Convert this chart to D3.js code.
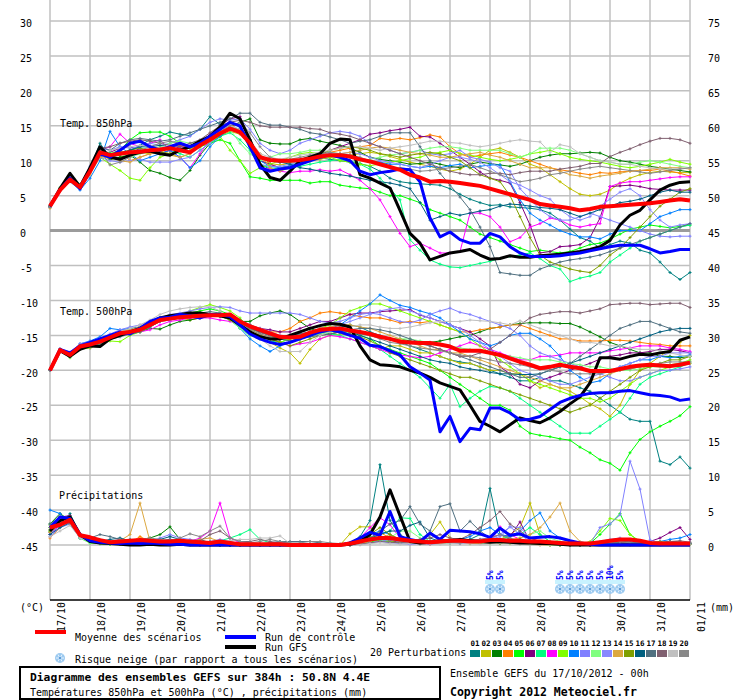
<!DOCTYPE html>
<html><head><meta charset="utf-8">
<script src="https://cdn.jsdelivr.net/npm/d3@7"></script>
<style>
body{margin:0;background:#fff;}
svg text{font-family:"DejaVu Sans Mono",monospace;}
</style></head><body>
<svg id="chart" width="740" height="700"></svg>
<script>
// ---------- DATA ----------
const dayLabels = ["17/10","18/10","19/10","20/10","21/10","22/10","23/10","24/10","25/10","26/10","27/10","28/10","28/10","29/10","30/10","31/10","01/11"];
const tempTicks = [30,25,20,15,10,5,0,-5,-10,-15,-20,-25,-30,-35,-40,-45];
const precTicks = [75,70,65,60,55,50,45,40,35,30,25,20,15,10,5,0];
const pertColors = ["#008080","#c0c000","#008000","#ff8000","#00ff00","#800080","#00ff80","#ff00ff","#80ff00","#0080ff","#8080ff","#80ff80","#8888ff","#dca840","#80a000","#006080","#507080","#806070","#c0c0c0","#888888"];
const snowSteps = [44,45,51,52,53,54,55,56,57];
const snowPct = [5,5,5,5,5,5,5,10,5];

const mean850 = [3.5,5.8,7.3,6.2,8.5, 11.2,10.8,11.0,11.2,11.3, 11.5,11.6,11.8,11.5,11.2, 12.2,13.0,13.9,14.6,14.1, 12.5,10.5,10.1,10.0,10.0, 10.1,10.3,10.6,10.8,10.8, 10.6,10.2,9.9,9.5,9.1, 8.7,8.0,7.6,7.0,7.1, 7.0,6.8,6.6,6.4,6.0, 5.6,5.2,4.8,4.4,3.8, 3.6,3.4,3.2,2.9,3.1, 3.4,3.5,3.6,3.7,3.8, 3.9,4.1,4.3,4.5,4.3];
const ctrl850 = [3.5,5.8,7.5,6.0,8.5, 11.0,10.5,11.5,12.5,12.8, 12.0,11.5,12.0,12.5,12.0, 12.5,13.5,14.5,15.5,15.0, 12.0,9.0,8.5,8.8,9.0, 9.5,10.0,10.5,10.8,10.5, 10.0,8.5,8.0,8.3,8.5, 8.8,8.7,7.0,1.8,-0.9, -0.2,-1.3,-1.8,-1.8,-0.4, -0.9,-2.3,-3.2,-3.7,-3.7, -3.7,-3.6,-3.4,-3.2,-2.9, -2.6,-2.3,-2.1,-2.1,-2.1, -2.6,-3.2,-3.0,-2.7,-2.7];
const gfs850 = [3.5,6.0,8.2,6.3,9.0, 12.0,10.5,10.2,10.8,11.2, 11.4,11.0,10.8,11.5,12.0, 12.8,13.5,14.8,16.8,16.0, 13.0,9.5,7.6,7.2,8.5, 10.0,10.5,11.0,12.5,13.1, 13.0,8.0,7.5,6.8,6.1, 2.9,-0.4,-1.8,-4.2,-3.7, -3.2,-3.0,-2.7,-3.5,-4.1, -4.0,-3.6,-3.8,-3.8,-3.6, -3.5,-3.4,-3.2,-3.0,-2.7, -2.3,-1.4,0.8,2.2,2.9, 4.4,5.8,6.5,6.9,7.0];
const pert850 = [
 [3.4,5.8,7.3,6.0,8.8, 12.5,10.5,10.8,11.5,12.2, 13.0,13.5,14.1,13.8,13.6, 14.5,16.3,15.2,14.8,14.0, 12.0,9.5,8.8,8.6,9.0, 9.6,10.2,10.4,10.2,10.0, 9.8,9.6,9.2,8.5,7.5, 7.0,6.8,6.7,6.6,6.5, 6.0,5.2,4.5,4.0,3.6, 3.7,3.4,3.3,3.2,3.0, 2.5,1.5,0.2,-1.0,-1.5, -2.5,-2.0,-1.5,-1.8,-2.8, -3.2,-4.5,-6.0,-7.0,-6.0],
 [3.6,6.1,7.6,6.4,8.4, 10.8,10.2,10.5,11.0,11.2, 11.0,11.4,11.0,10.5,11.0, 12.0,12.8,13.5,14.2,13.8, 12.2,10.0,9.6,9.4,9.6, 9.8,10.0,10.2,10.5,10.6, 10.8,11.0,11.2,11.0,10.6, 10.2,9.8,9.5,9.2,8.8, 8.5,8.8,9.5,10.5,11.5, 11.8,11.2,10.5,9.5,9.0, 8.0,7.0,6.0,5.2,5.0, 5.2,5.8,6.8,7.5,8.0, 8.3,8.5,8.4,8.3,8.3],
 [3.5,5.9,7.4,6.2,8.6, 11.8,10.2,10.5,10.8,9.8, 8.6,8.2,7.6,7.2,8.6, 10.8,12.5,13.5,14.8,15.5, 16.0,13.0,12.5,12.4,12.4, 13.0,13.2,12.8,12.5,12.2, 11.8,11.2,10.5,10.2,10.0, 9.8,9.5,9.6,9.8,9.5, 9.2,9.0,9.5,9.8,9.6, 9.4,9.2,9.5,10.0,10.5, 10.8,11.0,11.0,11.1,11.2, 11.1,10.5,10.0,9.8,9.5, 9.2,9.0,8.8,8.6,8.4],
 [3.3,5.7,7.2,6.1,8.2, 10.5,10.8,11.5,10.0,10.5, 11.0,11.5,12.0,12.2,11.8, 12.5,13.5,14.5,15.5,14.0, 12.5,11.0,9.5,9.0,9.2, 9.6,10.2,10.8,11.2,11.5, 11.8,12.0,12.2,13.2,13.0, 13.2,13.0,13.3,13.7,13.4, 12.0,11.0,10.5,10.8,11.0, 11.2,10.8,10.5,10.0,9.5, 9.0,8.7,8.5,8.2,8.0, 8.3,8.2,8.4,8.5,8.6, 8.6,8.8,8.5,8.2,7.8],
 [3.5,6.0,7.6,6.5,8.8, 11.5,11.0,11.5,13.0,14.0, 14.1,14.1,13.5,12.5,12.0, 12.0,12.5,13.0,12.5,10.0, 7.7,7.5,7.2,7.2,7.2, 7.2,6.8,7.0,7.0,6.5, 6.3,6.1,6.0,5.5,5.0, 5.0,4.5,4.0,3.0,2.5, 2.0,1.5,0.5,-0.5,-1.0, -1.5,-2.0,-2.5,-3.0,-2.8, -3.0,-3.2,-3.0,-2.5,-2.0, -1.8,-1.2,-0.5,0.2,0.5, 0.8,0.6,0.4,0.6,0.8],
 [3.5,5.9,7.5,6.2,8.4, 11.0,11.2,11.8,12.0,11.5, 11.2,11.0,11.5,12.0,11.8, 12.5,13.8,15.0,16.0,16.3, 13.0,10.0,9.5,9.0,9.2, 9.5,10.0,10.8,11.5,12.0, 12.5,13.0,13.8,14.0,14.3, 14.5,14.8,13.5,13.4,12.5, 11.5,10.5,9.5,8.4,7.5, 7.2,6.8,4.0,0.8,-3.2, -3.0,-2.3,-2.2,-2.0,-1.0, 1.8,6.3,6.4,6.5,6.3, 6.0,5.9,5.8,5.8,5.8],
 [3.6,6.0,7.4,6.2,8.6, 11.0,10.5,11.0,11.5,12.0, 12.0,11.8,11.5,11.0,10.5, 11.5,12.5,13.5,14.0,13.0, 11.5,9.5,9.0,8.8,9.0, 9.2,9.5,9.8,10.0,10.2, 10.0,9.5,8.8,7.5,6.0, 4.4,-1.3,-2.8,-4.2,-4.8, -5.2,-5.3,-5.0,-4.7,-4.4, -4.0,-3.7,-3.5,-3.2,-4.0, -5.0,-5.5,-7.3,-6.8,-6.5, -6.0,-4.5,-3.5,-2.5,-1.5, -1.0,-0.5,0.0,0.5,0.8],
 [3.4,5.8,7.3,6.0,8.3, 11.5,12.0,13.8,12.5,12.0, 12.5,13.0,11.5,10.5,9.0, 11.0,13.0,14.0,15.5,15.0, 12.0,9.0,8.8,8.5,8.3, 8.5,8.5,8.7,8.5,8.7, 8.0,7.2,6.0,4.4,2.0, -0.4,-2.3,-1.8,-2.5,-3.2, -3.2,-3.0,2.5,2.5,2.0, 0.5,-1.6,-1.0,0.5,1.0, 1.8,1.5,0.8,0.5,0.8, 1.0,6.3,6.8,7.0,7.0, 7.2,7.4,7.6,7.7,7.7],
 [3.5,6.0,7.5,6.4,8.7, 10.5,9.5,8.6,7.5,7.2, 9.0,10.5,11.0,11.5,11.8, 12.0,12.8,13.5,11.5,10.0, 8.2,9.0,9.5,10.0,10.5, 11.0,11.2,11.0,10.5,10.0, 9.8,9.5,9.3,9.5,9.8, 10.0,10.3,10.5,11.0,11.2, 11.5,11.0,10.8,10.5,10.2, 10.0,10.2,10.5,11.0,11.2, 11.5,11.0,10.5,10.2,10.0, 9.8,9.5,9.2,9.0,9.2, 9.5,9.8,10.2,9.8,9.5],
 [3.3,5.7,7.0,5.8,7.5, 10.0,14.2,12.0,11.0,10.0, 10.5,11.0,11.5,10.5,9.0, 10.0,12.0,13.5,14.5,14.0, 12.5,10.0,9.2,9.0,9.3, 9.8,10.3,10.8,11.0,10.8, 10.5,10.2,10.0,9.8,9.5, 9.5,9.2,9.0,9.2,9.0, 9.3,9.5,9.0,9.2,9.4, 9.4,7.0,4.4,2.5,1.5, 0.8,0.0,-0.5,-0.9,-0.9, -1.2,-0.5,0.0,0.0,0.0, 1.0,2.0,2.5,3.0,3.0],
 [3.5,6.1,7.7,6.6,9.2, 11.8,11.5,12.0,11.8,12.0, 12.5,12.2,12.5,13.0,13.5, 14.5,15.5,16.0,15.8,16.0, 14.5,12.5,11.5,11.0,11.5, 12.5,13.0,13.5,14.0,14.2, 14.0,13.5,12.5,12.0,11.5, 11.0,11.2,11.5,11.0,10.8, 11.0,11.5,10.5,10.2,9.8, 9.0,8.5,6.0,4.5,3.0, 2.0,1.5,1.5,2.0,2.5, 2.0,1.5,1.0,0.5,0.0, -0.5,-0.8,-0.9,-0.8,-0.8],
 [3.6,6.2,7.8,6.6,8.9, 11.0,11.2,11.0,10.5,11.0, 11.5,12.0,12.5,12.8,12.5, 12.8,13.2,14.0,14.5,12.5, 11.0,10.0,10.5,11.0,11.0, 11.2,11.5,11.5,11.2,11.0, 10.5,10.0,10.2,10.5,10.8, 11.0,11.2,11.5,11.8,12.0, 12.0,11.8,11.5,11.5,11.5, 11.5,11.0,10.5,11.0,11.8, 11.8,11.8,11.5,11.0,10.5, 10.0,9.8,9.5,9.5,9.8, 10.0,9.8,9.5,9.2,9.0],
 [3.4,5.9,7.3,6.1,8.4, 10.5,10.0,9.8,10.0,10.2, 9.8,9.8,9.8,10.2,10.5, 11.5,12.5,13.8,15.0,14.5, 12.0,9.5,9.2,9.2,9.5, 10.0,10.2,10.5,10.8,11.0, 11.2,11.0,10.5,10.0,9.8, 9.5,9.2,9.0,9.5,10.0, 10.5,10.5,10.2,9.8,9.0, 8.0,7.0,6.5,5.8,5.0, 4.5,3.0,2.0,1.5,2.0, 3.5,4.5,5.5,6.0,5.0, 3.0,1.5,0.5,0.8,1.0],
 [3.2,5.7,7.2,6.0,8.0, 10.5,10.5,10.0,9.8,10.5, 11.0,11.2,10.8,10.5,11.0, 12.5,13.5,14.5,15.0,14.2, 12.8,11.0,9.0,8.5,9.0, 9.5,10.0,10.5,10.8,11.0, 11.2,11.5,11.8,12.0,11.8, 11.5,11.2,11.0,10.8,10.5, 10.5,10.8,11.0,11.2,10.8, 10.5,10.0,9.5,9.0,9.0, 9.0,8.5,8.0,7.8,7.5, 7.8,8.0,8.2,8.5,8.6, 8.8,9.0,9.0,9.0,8.8],
 [3.5,6.0,7.6,6.3,8.5, 11.5,11.0,11.2,11.5,11.8, 11.5,11.2,11.0,11.5,12.0, 12.5,13.2,14.0,14.8,14.5, 13.0,10.5,10.0,9.8,9.8, 10.0,10.5,11.0,11.5,11.8, 12.0,11.8,11.5,11.0,10.8, 10.5,10.8,11.0,11.2,11.0, 10.5,10.0,9.0,8.0,7.5, 7.0,5.0,2.0,-1.0,-3.5, -4.5,-5.0,-5.5,-5.8,-6.0, -5.0,-3.5,-2.5,-1.0,0.5, 2.0,3.5,4.5,5.5,6.0],
 [3.5,6.0,7.5,6.4,8.8, 11.5,11.0,11.0,11.5,12.0, 12.0,12.2,12.0,11.5,12.0, 12.5,13.5,14.5,15.5,14.8, 13.0,10.5,10.0,9.8,9.5, 9.0,8.8,8.5,8.2,8.0, 7.8,7.5,7.2,7.0,6.8, 6.5,6.0,4.0,1.5,2.0, 2.5,2.2,2.5,2.8,3.0, 3.5,3.8,3.7,3.5,3.3, 3.2,3.0,2.5,2.0,2.5, 3.0,3.5,4.0,4.2,4.5, 5.0,5.5,5.8,5.5,5.5],
 [3.5,6.0,7.6,6.5,9.0, 12.0,11.5,12.5,13.0,13.2, 13.0,12.8,13.0,13.5,14.0, 14.5,15.0,15.5,16.0,16.8, 16.8,15.5,15.1,15.1,14.8, 14.5,14.0,13.8,13.4,13.0, 12.5,12.8,13.0,13.5,14.0, 14.0,14.0,12.0,10.0,8.2, 6.5,4.8,3.0,0.5,-2.3, -6.0,-6.2,-6.4,-6.4,-5.5, -5.0,-4.5,-4.2,-4.0,-3.8, -3.5,-3.0,-2.5,-2.0,-1.5, -1.0,-0.5,0.0,0.5,1.0],
 [3.5,6.0,7.5,6.3,8.6, 11.8,12.0,12.5,12.8,13.0, 12.8,12.5,12.2,12.0,12.5, 13.0,14.0,15.0,15.5,15.8, 15.5,15.0,14.8,14.8,14.8, 14.8,14.6,14.5,14.0,13.8, 13.5,13.0,12.5,12.0,11.5, 11.0,10.5,10.0,9.5,9.0, 8.5,8.2,8.0,8.0,8.2, 8.2,8.0,8.3,8.5,8.5, 8.5,8.8,9.0,9.2,9.6, 9.6,10.6,11.2,11.7,12.3, 12.8,13.2,13.2,13.0,12.5],
 [3.6,6.1,7.6,6.5,8.7, 11.0,11.5,11.8,12.0,12.2, 12.0,11.8,12.2,12.5,12.2, 12.5,13.5,14.5,15.0,14.5, 13.0,11.0,10.5,10.2,10.5, 10.8,11.0,11.2,11.5,11.8, 12.0,12.0,11.8,11.5,11.8, 12.0,12.2,12.5,12.8,12.8, 12.6,12.5,12.2,12.0,12.2, 12.5,12.8,13.0,12.8,12.7, 11.2,12.3,12.0,11.0,10.5, 10.0,9.8,9.5,9.5,9.2, 9.0,8.8,8.8,8.9,9.0],
 [3.4,5.9,7.4,6.2,8.5, 11.5,9.4,9.8,10.5,11.5, 12.0,12.5,12.8,12.5,12.0, 12.8,13.5,14.2,15.0,15.5, 14.0,12.0,10.5,10.0,10.2, 10.5,10.8,11.0,11.2,11.0, 10.8,10.5,10.0,9.5,9.0, 9.0,8.8,8.5,8.6,8.8, 9.0,9.2,9.5,9.0,8.5, 8.0,7.5,7.0,7.2,7.5, 8.0,8.2,8.5,8.8,9.0, 9.2,9.0,8.8,8.6,8.4, 8.2,8.4,8.6,8.8,9.0]
];

const mean500 = [-20.0,-17.1,-17.8,-16.6,-16.3, -15.9,-15.3,-14.7,-14.5,-14.2, -13.5,-12.8,-12.6,-12.4,-12.3, -12.2,-12.1,-12.1,-12.0,-13.0, -13.7,-14.2,-14.7,-15.2,-15.3, -15.2,-14.6,-14.2,-14.1,-14.0, -14.3,-14.5,-14.8,-15.2,-15.5, -15.9,-16.0,-16.1,-16.1,-16.3, -16.6,-17.2,-17.2,-17.2,-17.5, -17.8,-18.3,-18.8,-19.2,-19.7, -19.5,-19.2,-19.5,-19.7,-20.1, -20.1,-20.1,-19.8,-19.5,-19.3, -19.2,-19.3,-19.4,-19.2,-18.9];
const ctrl500 = [-20.0,-17.0,-17.5,-16.5,-16.0, -15.5,-15.0,-14.5,-14.8,-14.0, -13.0,-12.5,-12.4,-12.0,-12.2, -12.5,-12.0,-12.0,-12.3,-13.5, -14.8,-15.5,-16.0,-16.3,-16.0, -15.5,-15.0,-14.5,-14.2,-14.5, -15.0,-15.4,-16.4,-16.6,-17.2, -17.8,-19.5,-20.4,-21.4,-28.8, -26.6,-30.2,-28.3,-28.5,-25.4, -25.4,-26.1,-27.1,-27.0,-26.6, -25.6,-24.6,-24.0,-23.6,-23.3, -23.2,-23.2,-23.0,-22.9,-23.2, -23.5,-23.6,-23.8,-24.3,-24.1];
const gfs500 = [-20.0,-17.2,-18.0,-17.0,-16.5, -16.6,-15.5,-15.0,-14.5,-14.0, -13.2,-12.5,-12.2,-12.0,-11.8, -11.8,-12.0,-12.2,-12.5,-13.5, -14.5,-15.2,-15.5,-15.5,-15.0, -14.5,-14.0,-13.6,-13.3,-13.4, -13.8,-16.5,-18.5,-19.2,-19.3, -19.5,-20.0,-20.4,-21.0,-21.8, -22.3,-22.8,-25.0,-27.3,-28.0, -28.8,-27.8,-26.8,-27.2,-27.5, -26.8,-25.9,-24.8,-23.8,-21.8, -18.2,-18.2,-18.4,-18.0,-17.7, -17.8,-17.5,-17.3,-15.7,-15.2];
const pert500 = [
 [-20.0,-17.3,-18.0,-16.8,-16.5, -15.8,-15.0,-14.5,-14.3,-14.0, -13.5,-13.0,-12.5,-12.6,-12.4, -12.2,-12.0,-11.8,-12.2,-13.0, -14.0,-14.5,-15.0,-15.5,-15.8, -15.5,-15.0,-14.5,-14.0,-13.8, -13.5,-13.8,-14.5,-15.0,-15.5, -16.0,-16.5,-17.0,-17.5,-18.0, -18.5,-18.8,-19.0,-19.5,-20.0, -20.5,-21.0,-21.5,-21.5,-21.0, -21.5,-21.5,-22.0,-22.5,-23.0, -24.0,-25.0,-26.0,-27.0,-27.3, -27.3,-33.0,-33.5,-32.4,-34.0],
 [-20.0,-17.0,-17.6,-16.4,-16.0, -15.5,-15.0,-14.8,-14.5,-14.0, -13.5,-13.0,-12.8,-12.5,-12.8, -12.5,-12.2,-12.0,-12.5,-13.5, -14.5,-15.5,-16.0,-16.8,-17.5, -19.0,-17.0,-15.5,-15.0,-14.8, -15.0,-15.5,-16.5,-17.0,-16.5, -16.5,-17.0,-17.5,-17.5,-18.0, -18.5,-19.0,-19.0,-19.5,-20.0, -20.0,-20.5,-20.5,-21.5,-22.5, -22.0,-22.5,-23.0,-23.8,-24.8, -25.5,-26.6,-25.0,-22.0,-20.0, -19.0,-18.0,-17.0,-16.0,-15.0],
 [-20.0,-17.2,-17.9,-16.8,-16.6, -16.0,-15.5,-15.0,-14.8,-14.5, -14.0,-14.1,-13.5,-13.0,-12.8, -12.5,-12.3,-12.2,-12.5,-13.0, -13.0,-12.2,-11.8,-11.5,-12.0, -13.0,-14.0,-14.5,-14.8,-14.5, -14.5,-14.6,-15.0,-15.2,-15.5, -15.5,-15.8,-16.0,-16.0,-15.8, -15.5,-15.2,-15.0,-14.5,-14.0, -13.8,-13.5,-13.3,-13.2,-13.2, -13.2,-13.3,-13.3,-13.8,-14.5, -15.2,-16.0,-16.5,-17.0,-17.5, -17.5,-18.0,-18.0,-18.2,-18.0],
 [-20.0,-17.0,-17.5,-16.3,-16.0, -15.5,-15.2,-14.5,-14.0,-13.8, -13.2,-12.8,-12.5,-12.5,-12.3, -12.2,-12.0,-12.2,-12.5,-13.0, -13.5,-14.0,-14.5,-14.5,-14.0, -13.0,-12.5,-11.8,-11.6,-11.8, -12.0,-12.3,-12.5,-12.5,-12.8, -13.2,-13.0,-13.2,-13.0,-13.5, -14.0,-14.5,-14.5,-14.2,-14.0, -13.8,-13.5,-13.5,-14.0,-14.5, -15.0,-15.5,-15.5,-15.8,-15.8, -15.8,-15.7,-15.7,-15.8,-16.0, -16.2,-16.3,-16.5,-16.5,-16.5],
 [-20.0,-17.1,-17.8,-16.6,-16.3, -15.8,-15.3,-14.6,-14.3,-14.0, -13.2,-12.5,-12.2,-12.0,-11.8, -11.5,-11.2,-11.5,-12.0,-13.0, -14.0,-14.5,-15.0,-15.5,-15.8, -15.5,-15.0,-14.8,-14.5,-14.3, -14.5,-15.0,-15.5,-16.5,-17.0, -17.5,-18.0,-18.5,-19.0,-20.0, -21.0,-22.0,-23.0,-24.0,-25.0, -25.0,-25.7,-28.0,-29.0,-29.3, -29.5,-29.8,-30.0,-31.0,-31.8, -32.8,-33.3,-34.3,-31.8,-29.9, -28.8,-28.0,-27.3,-26.5,-25.2],
 [-20.0,-17.2,-17.9,-16.7,-16.4, -16.0,-15.3,-14.8,-14.5,-14.2, -13.5,-12.8,-12.5,-12.4,-12.5, -12.3,-12.2,-12.0,-12.2,-13.0, -13.8,-14.0,-14.2,-14.5,-14.5, -14.0,-13.5,-13.0,-13.0,-12.5, -12.0,-11.8,-11.8,-11.6,-11.5, -11.4,-11.3,-12.1,-12.5,-13.0, -13.5,-14.0,-14.5,-15.5,-16.5, -19.5,-20.5,-22.0,-22.5,-21.5, -21.0,-20.5,-20.0,-19.5,-19.0, -18.4,-18.0,-17.8,-17.5,-17.5, -17.3,-17.0,-17.0,-17.2,-17.5],
 [-20.0,-17.0,-17.7,-16.5,-16.2, -15.6,-15.0,-14.6,-14.5,-14.0, -13.5,-12.8,-12.5,-12.2,-12.0, -12.0,-12.0,-12.2,-12.8,-14.0, -15.0,-15.5,-15.8,-16.0,-15.5, -15.0,-14.5,-14.5,-14.8,-15.0, -15.5,-16.0,-16.5,-17.0,-18.0, -19.0,-20.0,-21.0,-22.5,-24.0, -22.0,-25.2,-24.0,-23.0,-22.3, -22.5,-23.0,-24.0,-25.0,-26.0, -27.0,-28.0,-29.0,-29.0,-29.0, -28.0,-27.0,-26.0,-24.0,-22.0, -21.0,-20.5,-20.0,-19.5,-19.0],
 [-20.0,-17.1,-17.8,-16.9,-16.8, -16.2,-15.5,-15.0,-14.8,-14.5, -14.2,-13.5,-13.0,-12.8,-12.5, -12.5,-12.5,-12.8,-13.0,-13.5, -14.5,-15.0,-15.5,-16.0,-16.5, -16.2,-16.0,-15.5,-15.0,-15.2, -15.5,-16.0,-16.5,-17.0,-17.5, -17.8,-18.0,-18.2,-18.0,-17.5, -17.0,-16.5,-16.0,-16.5,-17.0, -17.5,-18.0,-18.5,-18.5,-18.0, -18.0,-17.8,-17.5,-17.5,-17.5, -17.5,-17.2,-17.0,-16.8,-16.5, -16.5,-16.5,-16.8,-17.0,-17.3],
 [-20.0,-17.2,-18.2,-17.0,-16.8, -16.2,-15.8,-15.9,-15.0,-14.5, -13.8,-13.0,-12.5,-12.0,-11.5, -11.0,-10.6,-11.0,-11.5,-12.5, -14.0,-15.0,-15.5,-16.0,-15.5, -15.0,-14.5,-14.0,-13.5,-12.5, -11.5,-11.0,-10.5,-10.5,-11.0, -11.5,-12.0,-12.5,-13.0,-13.5, -14.0,-14.5,-15.5,-16.5,-17.5, -18.5,-19.5,-20.5,-21.5,-22.0, -22.5,-23.0,-23.5,-24.0,-24.0, -24.5,-24.0,-23.0,-22.0,-21.0, -20.5,-20.0,-19.5,-19.0,-18.5],
 [-20.0,-17.0,-17.6,-16.2,-15.8, -15.2,-14.0,-14.2,-14.0,-13.8, -13.2,-12.8,-12.5,-12.3,-12.2, -12.0,-12.0,-12.2,-12.5,-14.0, -15.5,-16.5,-17.3,-16.5,-16.0, -15.5,-15.0,-14.5,-14.0,-13.5, -12.5,-11.5,-10.5,-9.2,-10.0, -10.7,-11.0,-11.5,-11.9,-12.5, -13.5,-14.5,-15.5,-16.0,-16.5, -16.0,-15.0,-14.7,-14.7,-15.5, -16.5,-18.0,-20.0,-21.0,-21.8, -21.5,-20.5,-19.5,-19.0,-18.5, -18.5,-18.0,-18.2,-18.0,-17.8],
 [-20.0,-16.9,-17.4,-16.2,-15.9, -15.4,-14.8,-14.2,-13.8,-13.5, -13.0,-12.5,-12.0,-11.8,-11.5, -11.2,-11.0,-10.9,-11.0,-11.5, -11.8,-11.8,-11.8,-11.8,-11.8, -12.0,-12.5,-13.0,-13.2,-13.0, -12.5,-12.0,-11.8,-12.0,-12.5, -13.0,-13.2,-12.8,-12.0,-11.5, -11.1,-11.7,-12.0,-12.5,-13.0, -13.5,-14.0,-15.0,-16.5,-17.5, -18.0,-18.5,-19.0,-19.5,-20.0, -20.5,-21.0,-21.5,-21.5,-21.0, -20.5,-20.0,-20.0,-19.8,-19.5],
 [-20.0,-17.1,-17.7,-16.6,-16.2, -15.9,-15.2,-14.6,-14.2,-14.0, -13.4,-12.8,-12.4,-12.2,-12.1, -12.0,-12.0,-12.2,-12.8,-14.0, -15.0,-15.5,-16.0,-16.2,-16.0, -15.5,-15.0,-14.8,-14.5,-14.5, -14.5,-14.8,-15.0,-15.2,-15.5, -15.5,-15.5,-15.8,-16.0,-16.2, -16.5,-16.8,-17.0,-17.2,-17.5, -17.8,-18.0,-18.2,-18.5,-18.5, -18.5,-18.8,-19.0,-19.2,-19.5, -19.5,-19.8,-20.0,-20.0,-19.8, -19.5,-19.5,-19.2,-19.0,-18.8],
 [-20.0,-17.3,-18.0,-16.8,-16.5, -16.0,-15.5,-15.0,-14.6,-14.3, -13.8,-13.0,-12.8,-12.5,-12.3, -12.2,-12.2,-12.0,-12.2,-13.0, -13.5,-14.0,-14.5,-15.0,-15.2, -15.0,-14.5,-14.0,-13.8,-13.5, -13.0,-12.5,-12.0,-11.5,-11.2, -11.0,-11.5,-12.0,-12.5,-13.0, -13.5,-14.0,-15.0,-16.0,-17.0, -18.0,-19.0,-20.0,-20.5,-21.0, -21.5,-22.0,-22.0,-21.5,-21.0, -20.5,-20.0,-19.5,-19.0,-18.5, -18.0,-18.0,-17.5,-17.5,-17.5],
 [-20.0,-17.0,-17.6,-16.4,-16.1, -15.6,-15.0,-14.6,-14.2,-13.8, -13.0,-12.6,-12.4,-12.5,-12.3, -12.2,-12.2,-12.3,-12.5,-13.5, -14.2,-14.8,-15.2,-15.5,-15.3, -15.0,-14.5,-14.0,-13.8,-13.5, -13.5,-13.8,-14.0,-14.5,-15.0, -15.5,-16.0,-16.5,-17.0,-17.0, -17.5,-17.5,-18.0,-18.5,-19.0, -19.5,-20.0,-20.5,-21.0,-21.5, -22.0,-22.5,-22.5,-22.0,-21.5, -21.0,-20.5,-20.0,-19.8,-19.5, -19.5,-19.3,-19.2,-19.0,-19.0],
 [-20.0,-17.1,-17.8,-16.5,-16.2, -15.8,-15.2,-14.8,-14.5,-14.2, -13.5,-12.8,-12.5,-12.3,-12.2, -12.1,-12.0,-12.2,-12.8,-13.5, -14.5,-15.0,-15.5,-16.0,-16.5, -16.0,-15.5,-15.0,-14.8,-14.5, -14.8,-15.2,-15.8,-16.5,-17.5, -18.0,-18.5,-19.0,-19.5,-20.0, -20.5,-21.0,-21.0,-21.5,-22.0, -22.5,-23.0,-23.5,-24.0,-24.5, -25.0,-25.5,-26.0,-25.5,-25.0, -24.0,-23.0,-22.0,-21.0,-20.0, -19.5,-19.0,-18.5,-18.5,-18.0],
 [-20.0,-17.2,-17.9,-16.7,-16.4, -16.0,-15.5,-14.8,-14.4,-14.2, -13.6,-12.9,-12.6,-12.4,-12.3, -12.2,-12.1,-12.2,-12.4,-13.2, -14.0,-14.5,-15.0,-15.2,-15.0, -14.8,-14.5,-14.2,-14.0,-14.2, -14.5,-15.0,-15.5,-16.0,-16.5, -17.0,-17.5,-18.0,-18.5,-18.8, -19.0,-19.5,-19.8,-20.0,-20.3, -20.5,-20.5,-20.6,-20.6,-20.5, -20.0,-19.5,-19.0,-18.5,-18.0, -17.5,-17.0,-16.5,-16.0,-15.5, -15.0,-14.5,-14.2,-14.0,-14.0],
 [-20.0,-17.3,-18.1,-17.0,-16.6, -16.2,-15.6,-15.2,-14.8,-14.5, -13.8,-13.0,-12.6,-12.2,-12.0, -11.8,-11.6,-11.8,-12.0,-12.8, -13.5,-14.2,-15.0,-15.5,-15.8, -15.5,-15.2,-15.0,-14.8,-14.5, -14.2,-14.0,-14.0,-14.2,-14.5, -15.0,-15.5,-16.0,-16.5,-17.0, -17.5,-18.0,-18.5,-19.0,-19.5, -20.0,-20.5,-21.0,-21.0,-20.5, -20.0,-19.5,-19.0,-18.0,-17.0, -16.0,-15.0,-14.0,-13.5,-13.0, -13.0,-13.5,-14.0,-14.5,-14.7],
 [-20.0,-17.0,-17.7,-16.5,-16.2, -15.7,-15.2,-14.7,-14.4,-14.1, -13.4,-12.8,-12.5,-12.3,-12.2, -12.0,-12.0,-12.1,-12.4,-13.2, -14.0,-14.6,-15.0,-15.2,-15.0, -14.8,-14.5,-14.3,-14.2,-14.2, -14.5,-14.8,-15.0,-15.2,-15.5, -15.8,-16.0,-16.2,-16.5,-17.0, -17.5,-18.0,-18.0,-17.5,-17.0, -16.0,-15.0,-13.5,-12.5,-12.0, -11.8,-11.6,-11.6,-11.8,-11.5, -11.2,-10.6,-10.5,-10.4,-10.4, -10.6,-10.5,-10.4,-10.4,-11.0],
 [-20.0,-17.1,-17.8,-16.6,-16.3, -15.8,-15.2,-14.5,-14.0,-13.5, -12.8,-12.0,-11.5,-11.2,-11.0, -10.9,-10.9,-11.5,-12.5,-13.5, -14.5,-15.5,-16.5,-17.3,-17.3, -17.3,-16.0,-15.0,-14.5,-14.0, -13.8,-13.5,-13.5,-13.8,-14.0, -14.0,-13.8,-13.5,-13.2,-13.0, -13.0,-13.0,-12.8,-12.9,-13.0, -13.2,-13.5,-12.9,-13.5,-14.0, -14.5,-15.0,-15.5,-16.0,-16.0, -16.2,-16.5,-16.5,-16.8,-17.0, -17.0,-17.2,-17.5,-17.8,-18.0],
 [-20.0,-17.2,-18.0,-16.9,-16.6, -16.0,-15.4,-14.9,-14.4,-14.0, -13.6,-13.0,-12.7,-12.5,-12.4, -12.3,-12.2,-12.3,-12.6,-13.4, -14.2,-14.8,-15.2,-15.5,-15.3, -15.0,-14.8,-14.5,-14.2,-14.0, -14.2,-14.5,-15.0,-15.5,-16.0, -16.2,-16.5,-16.8,-17.0,-17.2, -17.5,-17.8,-18.0,-18.2,-18.5, -18.8,-19.0,-19.2,-19.5,-19.8, -20.0,-20.2,-20.5,-20.5,-20.5, -20.5,-20.2,-20.0,-19.8,-19.5, -19.3,-19.0,-18.8,-18.8,-18.8]
];

const meanPr = [2.5,2.9,3.6,1.4,1.1, 0.7,0.4,0.5,0.6,0.7, 0.6,0.5,0.5,0.6,0.5, 0.4,0.3,0.5,0.3,0.1, 0.1,0.1,0.1,0.1,0.0, 0.0,0.0,0.0,0.0,0.0, 0.2,0.5,0.8,1.0,1.0, 0.8,0.6,0.5,0.4,0.5, 0.6,0.6,0.5,0.5,0.7, 0.7,0.6,0.6,0.5,0.5, 0.4,0.3,0.2,0.2,0.2, 0.4,0.6,0.8,0.8,0.6, 0.3,0.2,0.2,0.2,0.2];
const ctrlPr = [2.5,4.0,3.8,1.5,0.6, 0.4,0.3,0.2,0.3,0.2, 0.3,0.2,0.1,0.1,0, 0,0,0,0,0, 0,0,0,0,0, 0,0,0,0,0, 0.3,1.0,1.8,1.4,4.8, 1.2,0.8,0.5,1.7,0.8, 2.1,2.0,1.9,1.6,1.1, 2.4,1.4,1.6,1.0,1.1, 1.2,1.0,0.6,0.3,0.1, 0,0,0,0,0, 0,0,0,0,0];
const gfsPr = [2.0,3.5,4.0,1.5,0.5, 0.3,0.2,0.1,0,0, 0.1,0,0,0.1,0, 0,0,0,0,0, 0,0,0,0,0, 0,0,0,0,0, 0.1,0.5,1.5,4.0,7.9, 4.2,0.5,0.3,0.4,0.5, 0.6,0.8,0.6,0.5,0.4, 0.5,0.4,0.3,0.3,0.2, 0.2,0.1,0,0,0, 0,0,0,0,0, 0,0,0,0,0];
const pertPr = [
 [1.5,3.0,4.5,1.5,0.5, 0.3,0.2,0.5,0.8,0.3, 0.2,0.5,0.3,0.2,0.6, 0.8,0.3,0.2,0.1,0, 0,0,0,0,0, 0,0,0,0,0, 0.3,1.2,3.5,11.5,3.5, 1.5,0.5,0.3,0.5,0.6, 0.5,0.4,0.8,1.5,8.1, 1.5,0.8,0.6,0.4,0.3, 0.2,0.2,0.1,0,0, 0.3,0.5,0.4,0.3,0.2, 0.1,0.1,0.2,0.1,0.1],
 [2.0,4.0,3.5,1.0,0.5, 0.3,0.2,0.1,0.2,0.5, 0.3,0.2,0.1,0.1,0.2, 0.1,0,0,0,0, 0,0,0,0,0, 0,0,0,0,0, 1.6,2.6,2.6,1.0,0.5, 0.3,0.2,0.5,1.5,3.3, 1.0,0.5,0.4,0.3,0.5, 0.8,1.5,2.5,6.0,1.5, 0.5,0.3,0.2,0.1,0, 0.2,0.1,0,0,0.1, 0.2,0.3,0.2,0.1,0.2],
 [3.0,4.5,3.5,1.2,0.4, 0.2,0.1,0.3,0.5,0.8, 1.0,1.5,2.6,0.8,0.3, 0.2,0.1,0,0,0, 0,0,0,0,0, 0,0,0,0,0, 0,0.3,0.5,0.8,1.0, 0.5,0.3,0.2,0.4,0.5, 0.3,0.6,0.4,0.3,0.5, 0.4,0.3,0.2,0.3,0.2, 0.1,0,0,0,0, 0.1,0.2,0.3,0.5,0.2, 0.1,0.3,0.5,0.4,0.2],
 [1.0,2.5,3.5,1.5,0.8, 0.5,0.3,0.2,0.3,1.2, 0.5,0.3,0.2,0.1,0.1, 0.2,0.1,0,0,0, 0,0,0,0,0, 0,0,0,0,0, 0.2,0.5,1.0,1.8,1.0, 0.5,0.3,0.2,0.1,0.3, 0.5,0.3,0.2,0.4,0.6, 0.4,0.3,0.2,0.1,0, 0,0,0.1,0.2,0.1, 0.2,0.4,0.3,0.2,0.1, 0,0.1,0.1,0.2,0.1],
 [2.5,3.5,4.0,1.0,0.3, 0.2,0.1,0.2,0.3,0.2, 0.1,0.2,0.3,0.2,0.1, 0.1,0,0,0,0, 0,0,0,0,0, 0,0,0,0,0, 0,0.2,0.5,0.6,0.5, 0.3,0.4,0.2,0.3,0.8, 0.5,0.3,0.5,0.3,0.4, 0.6,0.4,0.3,0.2,0.1, 0,0,0,0,0.2, 1.5,3.0,4.5,1.5,0.5, 0.3,0.2,0.1,0.2,0.1],
 [1.8,4.0,4.2,1.5,0.5, 0.3,0.2,0.1,0.2,0.3, 0.2,0.1,0.2,0.1,0.1, 0,0.1,0,0,0, 0,0,0,0,0, 0,0,0,0,0, 0,0.2,0.8,1.2,0.6, 0.4,0.3,0.2,0.3,0.5, 0.4,0.3,0.5,0.8,1.0, 1.5,1.2,3.3,0.5,0.3, 0.2,0.1,0,0,0, 0.1,0.2,0.3,0.4,0.3, 0.5,1.0,1.8,2.5,0.8],
 [2.0,3.2,3.0,1.0,0.4, 0.3,0.2,0.1,0.3,0.5, 0.3,0.2,0.4,0.6,0.5, 0.3,0.4,0.6,1.0,1.5, 2.2,0.8,0.3,0.1,0, 0,0,0,0,0, 0.2,0.5,0.8,1.5,2.0, 3.9,3.8,1.5,0.5,0.3, 0.5,0.8,0.6,0.4,0.3, 0.8,1.2,1.5,2.5,1.5, 0.5,0.3,0.2,0.1,0, 0.1,0.2,0.3,0.2,0.1, 0.1,0.2,0.1,0.1,0.1],
 [1.5,2.8,3.2,1.2,0.6, 0.4,0.3,0.2,0.3,0.5, 0.4,0.3,0.2,0.3,0.5, 1.0,2.0,6.0,1.0,0.3, 0.2,0.1,0,0,0, 0,0,0,0,0, 0.3,1.0,2.5,3.9,2.9, 1.0,0.5,0.3,0.2,0.3, 0.4,0.5,0.3,0.4,0.5, 2.6,1.5,0.8,0.5,0.3, 0.2,0.1,0,0,0, 0.1,0.2,0.2,0.3,0.2, 0.1,0,0.1,0.2,0.1],
 [2.2,3.8,4.0,1.2,0.5, 0.3,0.2,0.3,0.2,0.1, 0.2,0.1,0.2,0.1,0, 0,0,0,0,0, 0,0,0,0,0, 0,0,0,0,0, 0.3,0.6,1.2,0.8,0.5, 0.3,0.5,0.8,0.4,0.3, 0.5,0.3,0.2,0.3,0.4, 0.3,0.2,0.3,0.4,0.2, 0.1,0,0,0.1,0.5, 2.0,3.8,3.5,1.5,0.5, 0.3,0.2,0.2,0.1,0.1],
 [5.0,4.5,3.0,1.0,0.5, 0.3,0.5,0.4,0.3,0.2, 0.3,0.5,0.8,0.6,0.3, 0.2,0.1,0,0,0, 0,0,0.2,0.5,0.2, 0,0,0,0,0, 0.2,0.5,1.5,2.0,1.5, 0.5,0.3,0.5,0.4,0.6, 0.5,0.8,1.2,2.0,2.5, 1.5,1.2,2.0,3.5,4.6, 2.0,1.0,0.5,0.2,0.1, 0.2,0.3,0.4,0.5,0.2, 0.3,0.5,0.8,1.0,1.5],
 [1.2,2.5,3.0,1.0,0.4, 0.3,0.5,0.8,0.6,0.4, 0.5,1.0,1.5,1.0,0.8, 0.5,0.3,0.2,0.1,0.5, 0.3,0.1,0,0,0, 0,0,0,0,0, 0,0.1,0.3,0.5,0.8, 0.5,0.3,0.2,0.1,0.2, 0.3,0.2,0.3,0.5,0.8, 1.5,2.6,1.5,0.5,0.3, 0.2,0.1,0,0,0.1, 2.5,3.0,4.3,12.0,8.0, 0.7,0.3,0.2,0.2,0.1],
 [2.8,3.5,3.8,1.0,0.3, 0.2,0.1,0.2,0.1,0.2, 0.1,0.2,0.1,0.1,0, 0,0,0,0,0, 0,0,0,0,0, 0,0,0,0,0, 0.2,0.3,0.6,0.8,1.0, 2.0,2.0,1.0,0.5,0.3, 0.2,0.3,0.4,0.3,0.2, 0.3,0.5,1.0,1.5,2.0, 1.0,0.5,0.3,0.2,0.1, 0.3,0.5,0.6,0.4,0.3, 0.2,0.1,0.1,0.1,0.1],
 [1.5,3.0,3.3,1.3,0.6, 0.5,0.3,0.2,0.4,0.6, 0.4,0.3,0.5,0.8,0.6, 0.3,0.5,0.8,0.5,0.2, 0.1,0,0,0,0, 0,0,0,0,0, 0,0.1,0.3,0.5,0.3, 0.2,0.1,0.2,0.3,0.4, 0.3,0.2,0.3,0.5,0.8, 1.2,2.6,2.5,1.0,0.5, 0.3,0.2,0.1,0.1,0.3, 0.5,0.8,1.0,0.5,0.3, 0.2,0.2,0.1,0.1,0.1],
 [1.8,3.0,3.5,1.5,1.0, 0.8,0.5,0.6,1.5,6.0, 0.5,0.3,0.3,0.2,0.5, 0.8,1.0,0.5,0.2,0.1, 0,0,0,0,0, 0,0,0,0,0, 0,0.2,0.5,1.0,1.5, 0.8,0.4,0.3,0.2,0.3, 0.4,0.3,0.5,0.4,0.3, 0.5,0.8,1.0,1.5,2.5, 4.0,6.0,2.0,0.5,0.2, 0.1,0.2,0.3,0.2,0.1, 0,0.1,0.1,0.1,0.1],
 [2.0,3.0,3.8,1.2,0.5, 0.3,0.2,0.3,0.2,0.1, 0.2,0.3,0.2,0.1,0.1, 0,0,0,0,0, 0,0,0,0,0, 0,0,0,0,0, 0.3,0.8,1.5,2.5,1.5, 0.8,0.5,0.3,0.5,0.8, 0.6,0.4,0.3,0.5,0.3, 0.2,0.3,0.2,0.1,0.1, 0,0,0,0,0, 0.2,0.5,0.4,0.3,0.2, 0.3,0.5,0.3,0.2,0.1],
 [1.5,2.5,3.2,1.3,0.6, 0.5,0.8,1.0,0.6,0.4, 0.5,0.8,1.2,0.8,0.5, 0.3,0.2,0.1,0,0, 0,0,0,0,0, 0,0,0,0,0, 0.2,0.5,1.0,1.5,2.0, 2.0,2.8,3.3,1.0,0.5, 0.3,0.5,0.8,0.6,0.4, 0.3,0.5,0.8,0.5,0.3, 0.2,0.1,0,0,0, 0.1,0.2,0.3,0.2,0.1, 0.1,0.2,0.3,0.2,0.2],
 [3.0,4.0,3.5,1.5,1.0, 1.5,1.2,0.8,0.5,0.3, 0.4,0.6,0.8,0.5,0.3, 0.4,0.5,0.3,0.2,0.1, 0.1,0.2,0.3,0.5,0.5, 0.5,0.5,0.3,0.1,0, 0.2,0.5,1.0,2.0,3.0, 3.5,5.5,3.0,2.0,5.5, 5.9,2.0,3.4,2.0,1.0, 0.8,0.5,0.4,0.3,0.2, 0.1,0.1,0,0,0.2, 0.3,0.5,0.6,0.4,0.3, 0.2,0.3,0.5,0.4,0.3],
 [2.5,3.5,3.0,1.2,0.5, 0.3,0.4,0.5,0.3,0.2, 0.3,0.4,0.6,0.8,0.5, 0.6,1.5,2.0,1.0,0.5, 0.5,0.8,0.5,0.3,0.2, 0,0,0,0,0, 0,0.1,0.3,0.5,0.4, 0.3,0.5,0.8,1.0,1.5, 1.0,0.8,1.5,2.5,3.5, 4.8,3.0,2.0,1.0,0.5, 0.3,0.2,0.1,0,0.2, 0.3,0.5,0.4,0.2,0.1, 0.2,0.3,0.5,0.6,0.4],
 [1.2,2.0,2.8,1.0,0.5, 0.3,0.2,0.1,0.2,0.3, 0.2,0.3,0.5,0.4,0.3, 0.2,0.3,0.5,0.6,0.8, 0.8,1.0,1.0,1.3,0.2, 0,0,0,0,0, 0,0,0.2,0.3,0.2, 0.1,0.2,0.3,0.2,0.1, 0.2,0.3,0.2,0.1,0.2, 0.3,0.2,0.1,0,0, 0,0,0,0,0, 0.1,0.2,0.1,0,0, 0.1,0.1,0.2,0.1,0.1],
 [2.2,3.8,3.5,1.5,0.8, 0.6,0.5,0.8,0.6,0.8, 1.0,0.8,0.6,1.0,1.6, 1.2,2.0,2.7,1.0,0.5, 0.3,0.5,0.8,0.5,0.3, 0.3,0.5,0.5,0.3,0.2, 0.2,0.5,0.8,1.0,0.8, 0.5,0.4,0.3,0.5,0.6, 0.4,0.3,0.5,0.8,1.0, 1.5,1.0,0.5,0.3,0.2, 0.1,0,0,0.1,0.2, 0.3,0.4,0.5,0.3,0.2, 0.2,0.3,0.4,0.3,0.2]
];

// ---------- CHART ----------
const svg = d3.select("#chart");
const FONT = "DejaVu Sans Mono";
const x = d3.scaleLinear().domain([0, 64]).range([50, 690]);
const yT = d3.scaleLinear().domain([-45, 30]).range([545, 21]);
const yP = d3.scaleLinear().domain([0, 75]).range([545, 21]);
const dayIdx = dayLabels.map((d, i) => i * 4);

svg.append("rect").attr("width", 740).attr("height", 700).attr("fill", "#fff");

// grid
const grid = svg.append("g");
grid.selectAll("line.v").data(dayIdx).join("line")
  .attr("x1", d => x(d)).attr("x2", d => x(d)).attr("y1", 0).attr("y2", 600)
  .attr("stroke", "#c0c0c0").attr("stroke-width", 1.5);
grid.selectAll("line.h").data(tempTicks).join("line")
  .attr("x1", x(0)).attr("x2", x(64)).attr("y1", d => yT(d)).attr("y2", d => yT(d))
  .attr("stroke", d => d === 0 ? "#9c9c9c" : "#c0c0c0")
  .attr("stroke-width", d => d === 0 ? 3 : 1.5);
svg.append("line").attr("x1", x(0)).attr("x2", x(64)).attr("y1", 600).attr("y2", 600)
  .attr("stroke", "#000").attr("stroke-width", 1.5);

// axes labels
const leftAxis = d3.axisRight(yT).tickValues(tempTicks).tickSize(0).tickPadding(0).tickFormat(d => String(d));
const gl = svg.append("g").attr("transform", "translate(20,2.5)").call(leftAxis);
const rightAxis = d3.axisRight(yP).tickValues(precTicks).tickSize(0).tickPadding(0).tickFormat(d => String(d));
const gr = svg.append("g").attr("transform", "translate(708,2.5)").call(rightAxis);
[gl, gr].forEach(g => {
  g.select(".domain").remove();
  g.selectAll("text").attr("font-family", FONT).attr("font-size", 10).attr("fill", "#000");
});

svg.selectAll("text.xl").data(dayIdx).join("text")
  .attr("transform", d => `translate(${x(d) + 14.5},602) rotate(-90)`)
  .attr("text-anchor", "end").attr("font-size", 10).attr("fill", "#000")
  .text((d, i) => dayLabels[i]);

const txt = (t, px, py, opt = {}) => svg.append("text").attr("x", px).attr("y", py)
  .attr("font-size", opt.size || 10).attr("font-weight", opt.bold ? "bold" : "normal")
  .attr("fill", opt.fill || "#000").attr("text-anchor", opt.anchor || "start").text(t);

txt("(°C)", 20, 611);
txt("(mm)", 710, 611);
txt("Temp. 850hPa", 60, 127);
txt("Temp. 500hPa", 60, 315);
txt("Précipitations", 59, 499);

// series drawing
function drawSeries(data, yS, color, width, markers) {
  const line = d3.line().x((d, i) => x(i)).y(d => yS(d));
  svg.append("path").attr("d", line(data)).attr("fill", "none")
    .attr("stroke", color).attr("stroke-width", width).attr("stroke-linejoin", "round");
  if (markers) {
    const m = data.map((d, i) => {
      const px = x(i), py = yS(d);
      return `M${px - 1.5},${py}h3M${px},${py - 1.5}v3`;
    }).join("");
    svg.append("path").attr("d", m).attr("stroke", color).attr("stroke-width", 1).attr("fill", "none");
  }
}

const groups = [
  [pert850, ctrl850, gfs850, mean850, yT],
  [pert500, ctrl500, gfs500, mean500, yT],
  [pertPr, ctrlPr, gfsPr, meanPr, yP]
];
groups.forEach(([pert, ctrl, gfs, mean, yS]) => {
  pert.forEach((s, k) => drawSeries(s, yS, pertColors[k], 1, true));
  drawSeries(gfs, yS, "#000", 3, false);
  drawSeries(ctrl, yS, "#0000ff", 3, false);
  drawSeries(mean, yS, "#ff0000", 4, false);
});

// snow icons
function flake(cx, cy) {
  const g = svg.append("g").attr("transform", `translate(${cx},${cy})`);
  g.append("circle").attr("r", 5).attr("fill", "#9ccaf0");
  for (let a = 0; a < 3; a++) {
    const ang = a * Math.PI / 3;
    g.append("line").attr("x1", -4 * Math.cos(ang)).attr("y1", -4 * Math.sin(ang))
      .attr("x2", 4 * Math.cos(ang)).attr("y2", 4 * Math.sin(ang))
      .attr("stroke", "#e8f4ff").attr("stroke-width", 1);
  }
  g.append("circle").attr("r", 1.2).attr("fill", "#5a9ad8");
}
snowSteps.forEach((s, k) => {
  svg.append("rect").attr("x", x(s) - 5).attr("y", 580).attr("width", 10).attr("height", 4).attr("fill", "#c8f2ff");
  flake(x(s), 589);
  svg.append("text").attr("transform", `translate(${x(s) + 3},580) rotate(-90)`)
    .attr("font-size", 8).attr("font-weight", "bold").attr("fill", "#0000ff").text(snowPct[k] + "%");
});

// legend
svg.append("line").attr("x1", 35).attr("x2", 66).attr("y1", 632).attr("y2", 632).attr("stroke", "#ff0000").attr("stroke-width", 4);
txt("Moyenne des scénarios", 75, 641);
svg.append("line").attr("x1", 225).attr("x2", 256).attr("y1", 637).attr("y2", 637).attr("stroke", "#0000ff").attr("stroke-width", 4);
txt("Run de contrôle", 265, 641);
svg.append("line").attr("x1", 225).attr("x2", 256).attr("y1", 647).attr("y2", 647).attr("stroke", "#000").attr("stroke-width", 4);
txt("Run GFS", 265, 651);
flake(60, 658);
txt("Risque neige (par rapport a tous les scénarios)", 75, 663);
txt("20 Perturbations", 370, 656);
pertColors.forEach((c, k) => {
  svg.append("rect").attr("x", 470 + 11 * k).attr("y", 650).attr("width", 10).attr("height", 7).attr("fill", c);
  svg.append("text").attr("x", 475 + 11 * k).attr("y", 646).attr("text-anchor", "middle")
    .attr("font-size", 7.5).attr("font-weight", "bold").text(String(k + 1).padStart(2, "0"));
});

svg.append("rect").attr("x", 20).attr("y", 667).attr("width", 420).attr("height", 32)
  .attr("fill", "none").attr("stroke", "#000").attr("stroke-width", 2);
txt("Diagramme des ensembles GEFS sur 384h : 50.8N 4.4E", 30, 681, {bold: true, size: 11.3});
txt("Températures 850hPa et 500hPa (°C) , précipitations (mm)", 30, 696);
txt("Ensemble GEFS du 17/10/2012 - 00h", 450, 677);
txt("Copyright 2012 Meteociel.fr", 450, 696, {bold: true, size: 11.5});

// data length sanity check
const all = {mean850, ctrl850, gfs850, mean500, ctrl500, gfs500, meanPr, ctrlPr, gfsPr};
pert850.forEach((s, k) => all["p850_" + k] = s);
pert500.forEach((s, k) => all["p500_" + k] = s);
pertPr.forEach((s, k) => all["pPr_" + k] = s);
let bad = Object.entries(all).filter(([k, v]) => v.length !== 65).map(([k, v]) => k + ":" + v.length);
if (bad.length) txt("LEN " + bad.join(" "), 60, 12, {fill: "red"});
</script>
</body></html>
